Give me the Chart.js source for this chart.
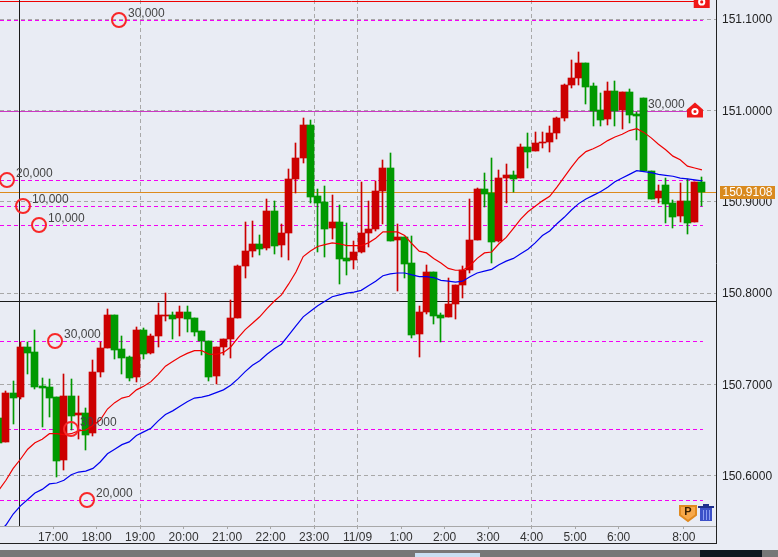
<!DOCTYPE html>
<html>
<head>
<meta charset="utf-8">
<title>USD/JPY 10 min</title>
<script src="https://cdn.jsdelivr.net/npm/chart.js@4"></script>
<style>
  html, body { margin: 0; padding: 0; background: #E9ECF4; overflow: hidden; }
  #wrap { position: relative; width: 778px; height: 557px; }
  canvas { position: absolute; left: 0; top: 0; }
  .frame { position: absolute; }
</style>
</head>
<body>
<div id="wrap">
  <canvas id="chart" width="778" height="543"></canvas>
  <div class="frame" style="left:0;top:543px;width:717px;height:1px;background:#222"></div>
  <div class="frame" style="left:716px;top:526px;width:1px;height:18px;background:#222"></div>
  <div class="frame" style="left:0;top:550px;width:778px;height:7px;background:#777"></div>
  <div class="frame" style="left:415px;top:553px;width:65px;height:4px;background:#C9DFF2"></div>
  <div class="frame" style="left:700px;top:550px;width:62px;height:7px;background:#101820"></div>
</div>
<script>
// 10 minute candles, index 0 is the one cut off at the left edge
var opens = [150.6632,150.6369,150.6906,150.6862,150.7409,150.7354,150.6982,150.6971,150.6862,150.6172,
  150.6873,150.6665,150.6686,150.6467,150.7135,150.7398,150.7760,150.7387,150.7300,150.7081,
  150.7596,150.7344,150.7530,150.7749,150.7760,150.7727,150.7793,150.7727,150.7585,150.7475,
  150.7092,150.7409,150.7497,150.7727,150.8297,150.8461,150.8537,150.8494,150.8899,150.8527,
  150.8658,150.9249,150.9479,150.9841,150.9063,150.8997,150.8713,150.8778,150.8384,150.8362,
  150.8450,150.8658,150.8702,150.9118,150.9370,150.8581,150.8614,150.8329,150.7552,150.7793,
  150.8231,150.7760,150.7738,150.7880,150.8088,150.8253,150.8581,150.9140,150.9096,150.8570,
  150.9260,150.9293,150.9260,150.9600,150.9556,150.9644,150.9655,150.9753,150.9918,151.0279,
  151.0356,151.0520,151.0268,151.0005,150.9907,151.0213,151.0005,151.0202,150.9961,151.0137,
  150.9337,150.9041,150.9184,150.8986,150.8844,150.9008,150.8778,150.9217];
var highs = [150.6632,150.6927,150.7037,150.7464,150.7464,150.7596,150.7070,150.7059,150.6862,150.7114,
  150.7059,150.6873,150.6741,150.7267,150.7464,150.7825,150.7760,150.7530,150.7311,150.7628,
  150.7617,150.7552,150.7891,150.8001,150.7793,150.7858,150.7858,150.7727,150.7585,150.7475,
  150.7409,150.7497,150.7924,150.8307,150.8778,150.8789,150.8636,150.9030,150.9008,150.8757,
  150.9359,150.9644,150.9918,150.9896,150.9140,150.9173,150.9074,150.8965,150.8767,150.8570,
  150.9217,150.9008,150.9228,150.9458,150.9534,150.8757,150.8614,150.8625,150.7858,150.8307,
  150.8231,150.7782,150.8165,150.8088,150.8297,150.9030,150.9151,150.9315,150.9479,150.9348,
  150.9414,150.9337,150.9633,150.9753,150.9764,150.9764,150.9830,150.9928,151.0290,151.0553,
  151.0640,151.0520,151.0301,151.0191,151.0312,151.0323,151.0202,151.0235,150.9983,151.0137,
  150.9337,150.9184,150.9260,150.9019,150.9206,150.9249,150.9217,150.9271];
var lows = [150.6358,150.6369,150.6566,150.6840,150.7114,150.6949,150.6533,150.6643,150.5985,150.6062,
  150.6500,150.6402,150.6281,150.6435,150.7081,150.7398,150.7278,150.7114,150.7037,150.7026,
  150.7278,150.7333,150.7409,150.7694,150.7497,150.7530,150.7574,150.7530,150.7322,150.7037,
  150.7004,150.7322,150.7289,150.7727,150.8165,150.8395,150.8417,150.8472,150.8428,150.8395,
  150.8362,150.9096,150.9425,150.8986,150.8450,150.8395,150.8592,150.8099,150.8198,150.8264,
  150.8439,150.8505,150.8680,150.8757,150.8570,150.8023,150.8165,150.7508,150.7300,150.7771,
  150.7661,150.7464,150.7738,150.7716,150.7946,150.8220,150.8581,150.8943,150.8329,150.8559,
  150.8986,150.9107,150.9260,150.9370,150.9556,150.9589,150.9545,150.9688,150.9885,151.0246,
  151.0279,151.0071,150.9830,150.9830,150.9841,150.9830,150.9797,150.9863,150.9677,150.9337,
  150.9030,150.8986,150.8767,150.8713,150.8778,150.8647,150.8778,150.8954];
var closes = [150.6358,150.6906,150.6851,150.7409,150.7344,150.6971,150.6960,150.6851,150.6161,150.6873,
  150.6654,150.6686,150.6446,150.7135,150.7398,150.7760,150.7376,150.7289,150.7070,150.7596,
  150.7333,150.7530,150.7760,150.7760,150.7716,150.7793,150.7716,150.7574,150.7475,150.7081,
  150.7409,150.7497,150.7727,150.8297,150.8461,150.8537,150.8483,150.8899,150.8516,150.8658,
  150.9249,150.9479,150.9841,150.9052,150.8986,150.8702,150.8778,150.8373,150.8351,150.8450,
  150.8658,150.8702,150.9118,150.9370,150.8570,150.8614,150.8318,150.7541,150.7793,150.8231,
  150.7749,150.7727,150.7880,150.8088,150.8253,150.8581,150.9140,150.9085,150.8559,150.9260,
  150.9293,150.9249,150.9600,150.9545,150.9644,150.9655,150.9753,150.9918,151.0279,151.0356,
  151.0520,151.0257,150.9994,150.9896,151.0213,150.9994,151.0202,150.9950,150.9939,150.9337,
  150.9030,150.9118,150.8976,150.8833,150.9008,150.8767,150.9217,150.9108];

var maShort = [150.584,150.595,150.608,150.618,150.629,150.636,150.640,150.646,150.646,150.645,
  150.646,150.649,150.650,150.655,150.661,150.673,150.680,150.685,150.687,150.694,
  150.698,150.703,150.711,150.720,150.725,150.730,150.734,150.737,150.737,150.733,
  150.733,150.735,150.741,150.751,150.760,150.767,150.774,150.783,150.791,150.798,
  150.810,150.823,150.840,150.846,150.851,150.853,150.855,150.854,150.852,150.852,
  150.852,150.855,150.860,150.867,150.867,150.867,150.863,150.854,150.846,150.844,
  150.838,150.833,150.827,150.825,150.825,150.830,150.838,150.844,150.845,150.854,
  150.861,150.871,150.881,150.889,150.895,150.901,150.906,150.916,150.927,150.938,
  150.948,150.955,150.958,150.962,150.967,150.971,150.974,150.978,150.980,150.976,
  150.970,150.963,150.957,150.950,150.946,150.939,150.937,150.935];
var maLong = [150.538,150.546,150.558,150.567,150.574,150.581,150.585,150.591,150.592,150.595,
  150.601,150.604,150.605,150.608,150.615,150.624,150.629,150.634,150.637,150.644,
  150.648,150.652,150.660,150.667,150.671,150.676,150.681,150.685,150.686,150.688,
  150.691,150.694,150.699,150.706,150.714,150.721,150.726,150.733,150.739,150.744,
  150.754,150.764,150.774,150.780,150.786,150.791,150.796,150.798,150.800,150.801,
  150.803,150.808,150.813,150.819,150.821,150.822,150.822,150.820,150.818,150.818,
  150.817,150.814,150.813,150.812,150.813,150.818,150.822,150.824,150.826,150.831,
  150.835,150.838,150.843,150.848,150.855,150.863,150.868,150.876,150.883,150.891,
  150.898,150.903,150.907,150.911,150.916,150.922,150.926,150.930,150.934,150.933,
  150.932,150.930,150.929,150.928,150.926,150.925,150.924,150.923];

// axis
var priceTicks = [150.6, 150.7, 150.8, 150.9, 151.0, 151.1];
var hourTicks = [7.5,13.5,19.5,25.5,31.5,37.5,43.5,49.5,55.5,61.5,67.5,73.5,79.5,85.5,94.5];
var hourLabels = ["17:00","18:00","19:00","20:00","21:00","22:00","23:00","11/09","1:00","2:00","3:00","4:00","5:00","6:00","8:00"];
var hourGrid = [19.5, 43.5, 49.5, 73.5];

// order levels and their markers
var dashedLevels = [151.0991, 150.9238, 150.8954, 150.8746, 150.7475, 150.6511, 150.5734];
var orderSlots = [16.59, 1.14, 3.35, 5.56, 7.77, 9.97, 12.18];
var orderLabels = ["30,000", "20,000", "10,000", "10,000", "30,000", "30,000", "20,000"];
var stopLevel = 150.9994;
var topLevel = 151.120;
var lastPrice = 150.9108;
var crossSlot = 2.8;
var crossPrice = 150.7913;
var levelEnd = 97.14;
var houseSlots = [96.04, 96.97];
var housePrices = [151.000, 151.120];
var houseLabel = "30,000";

var xMin = 0.179, xMax = 98.94;
var yMin = 150.5449, yMax = 151.121;

var slots = opens.map(function(o, i) { return i; });
var upColor = "#CC0000", downColor = "#009900";

function candleColor(ctx) {
  var i = ctx.dataIndex;
  return closes[i] >= opens[i] ? upColor : downColor;
}

function levelLine(price, color, dash, order) {
  return {
    type: "line",
    snap: true,
    data: [{x: xMin, y: price}, {x: levelEnd, y: price}],
    borderColor: color,
    borderWidth: 1,
    borderDash: dash,
    pointRadius: 0,
    order: order
  };
}

var datasets = [];
dashedLevels.forEach(function(p) {
  datasets.push(levelLine(p, "#F400F4", [4, 3], 10));
});
datasets.push(levelLine(stopLevel, "#CC38C4", [], 10));
datasets.push(levelLine(topLevel, "#EE0000", [], 10));
datasets.push(levelLine(lastPrice, "#DD8A1C", [], 10));
datasets[datasets.length - 1].data[1].x = xMax;
datasets.push(levelLine(crossPrice, "#1A1A1A", [], 9));
datasets[datasets.length - 1].data[1].x = xMax;
datasets.push({
  type: "line",
  snapX: true,
  data: [{x: crossSlot, y: yMin}, {x: crossSlot, y: yMax}],
  borderColor: "#1A1A1A",
  borderWidth: 1,
  pointRadius: 0,
  order: 9
});

// wicks under bodies
datasets.push({
  type: "bar",
  candle: true,
  grouped: false,
  barThickness: 1,
  backgroundColor: candleColor,
  data: slots.map(function(i) { return {x: i, y: [lows[i], highs[i]]}; }),
  order: 5
});
datasets.push({
  type: "bar",
  candle: true,
  grouped: false,
  barThickness: 7,
  backgroundColor: candleColor,
  data: slots.map(function(i) { return {x: i, y: [Math.min(opens[i], closes[i]), Math.max(opens[i], closes[i])]}; }),
  order: 4
});

datasets.push({
  type: "line",
  data: slots.map(function(i) { return {x: i, y: maShort[i]}; }),
  borderColor: "#F00000",
  borderWidth: 1.2,
  pointRadius: 0,
  order: 3
});
datasets.push({
  type: "line",
  data: slots.map(function(i) { return {x: i, y: maLong[i]}; }),
  borderColor: "#0000F0",
  borderWidth: 1.2,
  pointRadius: 0,
  order: 3
});

var orderPrices = dashedLevels;
datasets.push({
  type: "line",
  showLine: false,
  data: orderSlots.map(function(s, i) { return {x: s, y: orderPrices[i]}; }),
  pointRadius: 7,
  pointBorderWidth: 2,
  pointBorderColor: "#F82828",
  pointBackgroundColor: "rgba(0,0,0,0)",
  order: 2
});

// keeps bars and level lines on whole pixels like the original
var snapPlugin = {
  id: "snap",
  beforeDatasetsDraw: function(chart) {
    chart.data.datasets.forEach(function(ds, n) {
      var els = chart.getDatasetMeta(n).data;
      els.forEach(function(el) {
        if (ds.candle) {
          el.x = Math.floor(el.x) + 0.5;
          el.y = Math.round(el.y);
          el.base = Math.round(el.base);
          if (el.base === el.y) el.base = el.y + 1;
        }
        if (ds.snap) el.y = Math.round(el.y) + 0.5;
        if (ds.snapX) el.x = Math.floor(el.x) + 0.5;
      });
    });
  }
};

function drawHouse(ctx, cx, cy) {
  ctx.fillStyle = "#F01818";
  ctx.beginPath();
  ctx.moveTo(cx, cy - 8);
  ctx.lineTo(cx + 8, cy - 1);
  ctx.lineTo(cx + 8, cy + 7);
  ctx.lineTo(cx - 8, cy + 7);
  ctx.lineTo(cx - 8, cy - 1);
  ctx.closePath();
  ctx.fill();
  ctx.strokeStyle = "#FFFFFF";
  ctx.lineWidth = 2;
  ctx.beginPath();
  ctx.arc(cx, cy + 1, 2.6, 0, Math.PI * 2);
  ctx.stroke();
}

function drawTools(ctx, area) {
  // P flag
  var px = area.right - 28, py = area.bottom - 13;
  ctx.fillStyle = "#F7A84A";
  ctx.strokeStyle = "#E08A20";
  ctx.beginPath();
  ctx.moveTo(px - 8, py - 7);
  ctx.lineTo(px + 8, py - 7);
  ctx.lineTo(px + 8, py + 2);
  ctx.lineTo(px, py + 8);
  ctx.lineTo(px - 8, py + 2);
  ctx.closePath();
  ctx.fill();
  ctx.stroke();
  ctx.fillStyle = "#3A2000";
  ctx.font = "bold 11px 'Liberation Sans'";
  ctx.textAlign = "center";
  ctx.textBaseline = "middle";
  ctx.fillText("P", px, py - 1);
  // trash can
  var tx = area.right - 10, ty = area.bottom - 13;
  ctx.fillStyle = "#3C50C8";
  ctx.fillRect(tx - 6, ty - 5, 12, 13);
  ctx.fillStyle = "#1E2E8C";
  ctx.fillRect(tx - 8, ty - 7, 16, 2);
  ctx.fillRect(tx - 3, ty - 9, 6, 2);
  ctx.fillStyle = "#8C9CF0";
  ctx.fillRect(tx - 3, ty - 3, 1, 10);
  ctx.fillRect(tx, ty - 3, 1, 10);
  ctx.fillRect(tx + 3, ty - 3, 1, 10);
}

var overlayPlugin = {
  id: "overlay",
  afterDatasetsDraw: function(chart) {
    var ctx = chart.ctx, x = chart.scales.x, y = chart.scales.y, area = chart.chartArea;
    ctx.save();
    ctx.beginPath();
    ctx.rect(area.left, area.top, area.right - area.left, area.bottom - area.top);
    ctx.clip();

    ctx.font = "12px 'Liberation Sans'";
    ctx.fillStyle = "#444";
    ctx.textAlign = "left";
    ctx.textBaseline = "middle";
    orderSlots.forEach(function(s, i) {
      ctx.fillText(orderLabels[i], x.getPixelForValue(s) + 9, y.getPixelForValue(orderPrices[i]) - 6);
    });
    ctx.fillText(houseLabel, x.getPixelForValue(houseSlots[0]) - 47, y.getPixelForValue(housePrices[0]) - 6);

    houseSlots.forEach(function(s, i) {
      drawHouse(ctx, x.getPixelForValue(s), y.getPixelForValue(housePrices[i]));
    });
    drawTools(ctx, area);
    ctx.restore();

    // current price tag
    var py = Math.round(y.getPixelForValue(lastPrice));
    ctx.save();
    ctx.fillStyle = "#D98A1E";
    ctx.fillRect(720, py - 6, 55, 13);
    ctx.fillStyle = "#FFFFFF";
    ctx.font = "12px 'Liberation Sans'";
    ctx.textAlign = "center";
    ctx.textBaseline = "middle";
    ctx.fillText(lastPrice.toFixed(4), 747.5, py + 1);
    ctx.restore();
  }
};

new Chart(document.getElementById("chart"), {
  type: "bar",
  data: { datasets: datasets },
  plugins: [snapPlugin, overlayPlugin],
  options: {
    responsive: false,
    animation: false,
    events: [],
    layout: { autoPadding: false, padding: 0 },
    plugins: { legend: { display: false }, tooltip: { enabled: false }, title: { display: false } },
    scales: {
      x: {
        type: "linear",
        offset: false,
        min: xMin,
        max: xMax,
        afterBuildTicks: function(scale) {
          scale.ticks = hourTicks.map(function(v) { return {value: v}; });
        },
        afterFit: function(scale) {
          scale.height = 17;
          scale.paddingLeft = 0;
          scale.paddingRight = 0;
        },
        grid: {
          offset: false,
          color: function(ctx) {
            return ctx.tick && hourGrid.indexOf(ctx.tick.value) >= 0 ? "#A8A8A8" : "rgba(0,0,0,0)";
          },
          tickColor: "#A8A8A8",
          tickLength: 3
        },
        border: { color: "#A8A8A8", dash: [4, 3] },
        ticks: {
          autoSkip: false,
          maxRotation: 0,
          padding: 1,
          color: "#333",
          font: { family: "'Liberation Sans'", size: 12 },
          callback: function(v) { return hourLabels[hourTicks.indexOf(v)]; }
        }
      },
      y: {
        position: "right",
        min: yMin,
        max: yMax,
        afterBuildTicks: function(scale) {
          scale.ticks = priceTicks.map(function(v) { return {value: v}; });
        },
        afterFit: function(scale) {
          scale.width = 62;
          scale.paddingTop = 0;
          scale.paddingBottom = 0;
        },
        grid: { color: "#A8A8A8", drawTicks: false },
        border: { color: "#222", dash: [4, 3] },
        ticks: {
          padding: 6,
          labelOffset: 1,
          color: "#222",
          font: { family: "'Liberation Sans'", size: 12 },
          callback: function(v) { return v.toFixed(4); }
        }
      }
    }
  }
});
</script>
</body>
</html>
